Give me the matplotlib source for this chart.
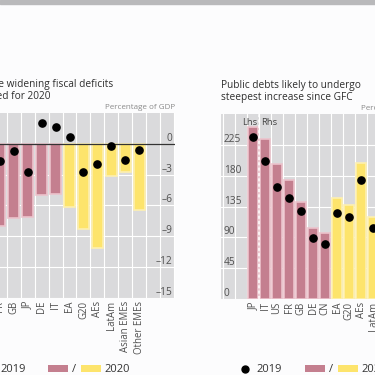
import matplotlib
matplotlib.use("Agg")
import numpy as np
import matplotlib.pyplot as plt
from matplotlib.patches import Patch, Rectangle
from matplotlib.lines import Line2D

plt.rcParams['font.family'] = ['Open Sans', 'DejaVu Sans']

# left panel: fiscal balance, percentage of GDP
def_cats = ["FR", "GB", "JP", "DE", "IT", "EA", "G20", "AEs", "LatAm", "Asian EMEs", "Other EMEs"]
def_2019 = [-1.7, -0.7, -2.7, 2.0, 1.6, 0.7, -2.7, -2.0, -0.2, -1.6, -0.6]
def_2020 = [-8.0, -7.2, -7.1, -5.0, -4.9, -6.1, -8.3, -10.1, -3.1, -2.7, -6.4]
def_ncountry = 5   # first ones are countries (pink), rest are aggregates (yellow)

# right panel: public debt, percentage of GDP (values as read on the Lhs scale)
debt_cats = ["JP", "IT", "US", "FR", "GB", "DE", "CN", "EA", "G20", "AEs", "LatAm"]
debt_2019 = [237, 202, 163, 147, 128, 89, 81, 126, 119, 174, 103]
debt_2020 = [251, 234, 197, 173, 142, 103, 97, 147, 137, 199, 120]
debt_ncountry = 7

PINK = '#c47f8f'
PINK_EDGE = '#ecc3cc'
YELLOW = '#fde46c'
YELLOW_EDGE = '#fdf0b0'
GRAY = '#dadadc'
TXT = '#505050'

W = 375.0
def fpos(l, t, w, h):
	# pixel box (from top-left) -> figure fraction
	return [l / W, 1 - (t + h) / W, w / W, h / W]

fig = plt.figure(figsize=(3.75, 3.75), dpi=100, facecolor='#fcfcfd')
fig.add_artist(Rectangle((0, 1 - 4 / W), 1, 4 / W, transform=fig.transFigure, color='#b9b9bb'))

def setup(ax, ncat, xlim, ylim, yticks):
	ax.set_facecolor(GRAY)
	for s in ax.spines.values():
		s.set_visible(False)
	ax.set_xlim(*xlim)
	ax.set_ylim(*ylim)
	ax.set_xticks(np.arange(ncat))
	ax.set_xticks(np.arange(np.floor(xlim[0]), np.ceil(xlim[1])) + 0.5, minor=True)
	ax.set_yticks(yticks)
	ax.grid(which='minor', axis='x', color='white', lw=0.8)
	ax.grid(which='major', axis='y', color='white', lw=0.8)
	ax.set_axisbelow(True)
	ax.tick_params(which='both', length=0)
	ax.tick_params(axis='x', pad=2, labelsize=6.9, labelcolor=TXT)

def bars(ax, v2020, v2019, ncountry, width):
	x = np.arange(len(v2020))
	fc = [PINK if i < ncountry else YELLOW for i in x]
	ec = [PINK_EDGE if i < ncountry else YELLOW_EDGE for i in x]
	ax.bar(x, v2020, width=width, color=fc, edgecolor=ec, linewidth=1.2, zorder=2)
	ax.plot(x, v2019, 'o', color='black', ms=5.2, zorder=4, ls='none')

# ---- left panel
ax1 = fig.add_axes(fpos(-35, 113, 210, 185))
setup(ax1, len(def_cats), (-2.43, 12.57), (-15, 3), [0, -3, -6, -9, -12, -15])
bars(ax1, def_2020, def_2019, def_ncountry, 0.78)
ax1.axhline(0, color='#333333', lw=0.9, zorder=3)
ax1.set_xticklabels(def_cats, rotation=90, va='top')
ax1.yaxis.tick_right()
ax1.tick_params(axis='y', pad=-2, labelsize=7.3, labelcolor=TXT)
ax1.set_yticklabels(['0', '–3', '–6', '–9', '–12', '–15'], ha='right', va='bottom')
ax1.text(0.0, 1 + 11 / 185, "Sizeable widening fiscal deficits\nexpected for 2020", transform=ax1.transAxes,
	ha='left', va='bottom', fontsize=7.3, color='#2e2e2e', linespacing=1.15)
ax1.text(1, 1.012, "Percentage of GDP", transform=ax1.transAxes, ha='right', va='bottom',
	fontsize=5.8, color='#8a8a8a')

# ---- right panel
ax2 = fig.add_axes(fpos(221, 114, 210, 185))
setup(ax2, len(debt_cats), (-2.67, 14.83), (0, 270), [0, 45, 90, 135, 180, 225])
bars(ax2, debt_2020, debt_2019, debt_ncountry, 0.82)
ax2.axvline(0.5, color='white', lw=1.1, ls=(0, (2, 1.5)), zorder=3)
ax2.set_xticklabels(debt_cats, rotation=90, va='top')
ax2.tick_params(axis='y', pad=-2, labelsize=7.3, labelcolor=TXT)
ax2.set_yticklabels(['0', '45', '90', '135', '180', '225'], ha='left', va='bottom')
ax2.text(0.35, 257, "Lhs", ha='right', va='center', fontsize=6.8, color='#444444')
ax2.text(0.65, 257, "Rhs", ha='left', va='center', fontsize=6.8, color='#444444')
ax2.text(0, 1 + 11 / 185, "Public debts likely to undergo\nsteepest increase since GFC", transform=ax2.transAxes,
	ha='left', va='bottom', fontsize=7.3, color='#2e2e2e', linespacing=1.15)
ax2.text(1, 1.012, "Percentage of GDP", transform=ax2.transAxes, ha='right', va='bottom',
	fontsize=5.8, color='#8a8a8a')

# ---- legends under each panel
dot = Line2D([], [], marker='o', color='black', ms=5, ls='none')
pk = Patch(facecolor=PINK)
yl = Patch(facecolor=YELLOW)
for x_dot, x_patch in [(-22, 48), (234, 305)]:
	fig.legend([dot], ['2019'], loc='center left', bbox_to_anchor=(x_dot / W, 1 - 370 / W),
		frameon=False, fontsize=8, handlelength=1, handletextpad=0.5, borderpad=0,
		labelcolor='#333333')
	fig.legend([pk, yl], ['/', '2020'], loc='center left', bbox_to_anchor=(x_patch / W, 1 - 370 / W),
		ncol=2, frameon=False, fontsize=8, handlelength=1.8, handleheight=0.65,
		handletextpad=0.35, columnspacing=0.45, borderpad=0, borderaxespad=0, labelcolor='#333333')

fig.savefig('out.png', dpi=100, facecolor=fig.get_facecolor())
